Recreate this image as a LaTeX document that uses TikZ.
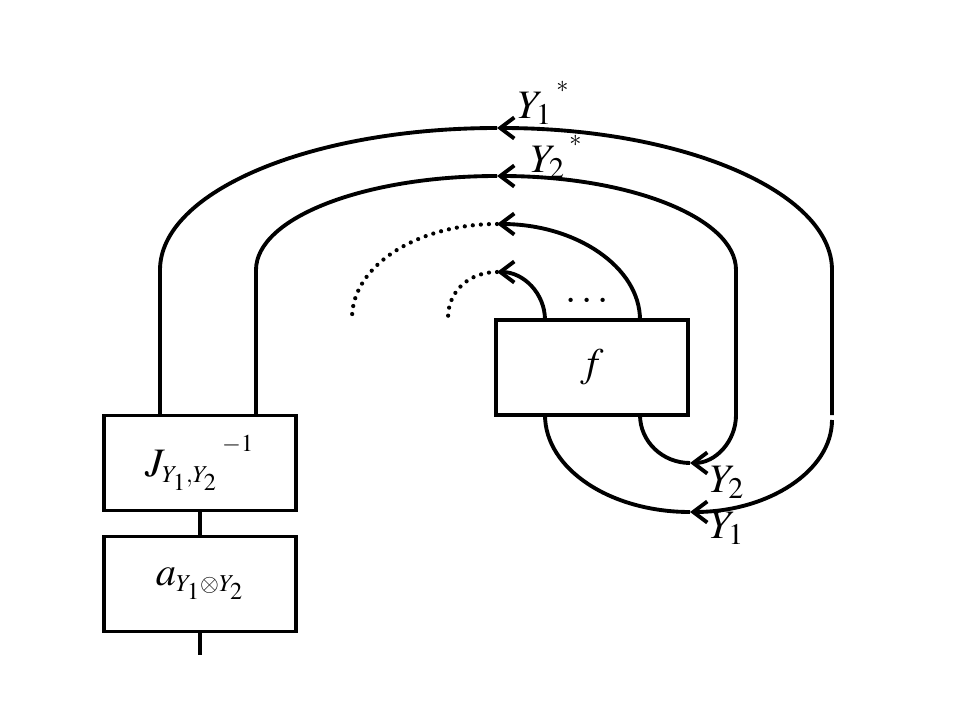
\documentclass[tikz,border=0pt]{standalone}
\usepackage{mathptmx}
\usetikzlibrary{arrows.meta}
\tikzset{
  box/.style={draw,line width=2.2pt,minimum width=3.84cm,minimum height=1.9cm,inner sep=0pt,font=\fontsize{23}{27}\selectfont},
  wire/.style={line width=2.2pt},
  arr/.style={wire,-{Straight Barb[length=8pt,width=12pt,line width=2.2pt]}},
  dotwire/.style={line width=2.4pt,line cap=round,dash pattern=on 0pt off 4.6pt},
  lbl/.style={inner sep=0pt,font=\fontsize{23}{27}\selectfont}
}
\begin{document}
\begin{tikzpicture}[x=0.02cm,y=-0.02cm]
  \useasboundingbox (0,0) rectangle (960,720);
  % Draw nodes
  \node[box] (f) at (592,367.5) {$f$};
  \node[box] (J) at (200,463) {$J_{\scriptscriptstyle Y_1,Y_2}\,{}^{{}^{-1}}$};
  \node[box] (a) at (200,584) {$a_{\scriptscriptstyle Y_1\otimes Y_2}$};
  \coordinate (y1top) at (497,128);
  \coordinate (y2top) at (497,176);
  \coordinate (in1) at (497,224);
  \coordinate (in2) at (497,272);
  \coordinate (y2end) at (690,463);
  \coordinate (y1end) at (690,512);
  \coordinate (out) at (200,655);

  % Draw edges
  \draw[wire] (J.south) -- (a.north);
  \draw[wire] (a.south) -- (out);
  \draw[wire] (160,415) -- (160,270) .. controls (160,191.6) and (310.9,128) .. (y1top);
  \draw[arr] (832,415) -- (832,270) .. controls (832,191.6) and (682,128) .. (y1top);
  \draw[wire] (256,415) -- (256,270) .. controls (256,218) and (363.9,176) .. (y2top);
  \draw[arr] (736,415) -- (736,270) .. controls (736,218) and (630,176) .. (y2top);
  \draw[arr] (640,320) .. controls (640,267) and (576,224) .. (in1);
  \draw[arr] (545,320) .. controls (545,293.5) and (523.5,272) .. (in2);
  \draw[dotwire] (in1) .. controls (417,224) and (352,266) .. (352,318);
  \draw[dotwire] (in2) .. controls (470.5,272) and (448,290) .. (448,318);
  \draw[wire] (545,415) .. controls (545,468.6) and (610,512) .. (y1end);
  \draw[arr] (832,420) .. controls (832,470.8) and (768.4,512) .. (y1end);
  \draw[wire] (640,415) .. controls (640,441.5) and (662.4,463) .. (y2end);
  \draw[arr] (736,415) .. controls (736,441.5) and (715.4,463) .. (y2end);

  % Labels
  \node[lbl] (l1) at (544,103) {$Y_1\,{}^{{}^{*}}$};
  \node[lbl] (l2) at (557,157) {$Y_2\,{}^{{}^{*}}$};
  \node[lbl] (l3) at (727,482) {$Y_2$};
  \node[lbl] (l4) at (727,528) {$Y_1$};
  \node[lbl] (dots) at (587,302) {$\cdots$};
\end{tikzpicture}
\end{document}
